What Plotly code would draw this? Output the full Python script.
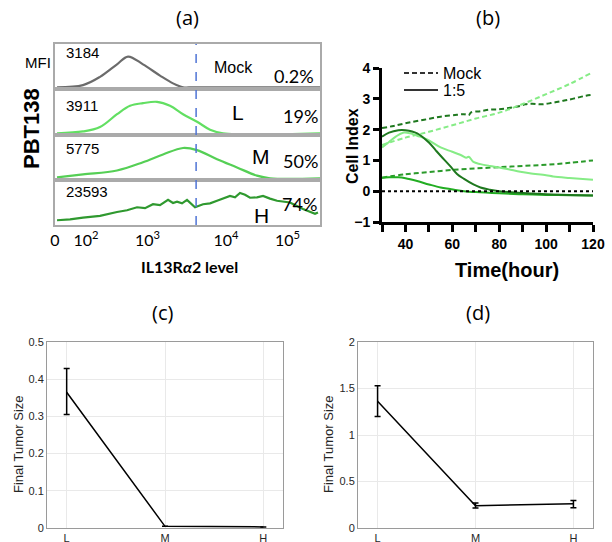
import plotly.graph_objects as go

W, H = 612, 542
def fx(px): return px / W
def fy(py): return 1 - py / H

# ---------------- (a) flow-cytometry histograms (x in display decades) ----------------
hist_tickvals = [1.614, 2.057, 2.936, 4.057, 4.936]
hist_ticktext = ['0', '10<sup>2</sup>', '10<sup>3</sup>', '10<sup>4</sup>', '10<sup>5</sup>']
gate_level = 3.63

mock_x = [1.643, 2.014, 2.257, 2.5, 2.657, 2.871, 3.114, 3.3, 3.443, 3.6, 5.4]
mock_y = [0.0, 0.05, 0.24, 0.53, 0.71, 0.53, 0.27, 0.09, 0.0, 0.0, 0.0]

low_x = [1.643, 2.014, 2.257, 2.5, 2.686, 2.871, 3.071, 3.257, 3.443, 3.643, 3.829, 4.014, 5.4]
low_y = [0.0, 0.04, 0.14, 0.43, 0.62, 0.68, 0.71, 0.62, 0.43, 0.26, 0.08, 0.0, 0.0]

mid_x = [1.643, 2.014, 2.5, 2.871, 3.157, 3.443, 3.643, 3.929, 4.214, 4.5, 4.686, 5.4]
mid_y = [0.02, 0.09, 0.18, 0.37, 0.55, 0.70, 0.65, 0.44, 0.25, 0.06, 0.0, 0.0]

high_x = [1.643, 1.829, 2.014, 2.257, 2.5, 2.643, 2.786, 2.9, 3.014, 3.114, 3.229, 3.3, 3.357,
          3.429, 3.5, 3.557, 3.614, 3.729, 3.829, 3.929, 4.043, 4.114, 4.186, 4.257, 4.329,
          4.4, 4.5, 4.586, 4.686, 4.786, 4.971, 5.157, 5.329, 5.371]
high_y = [0.07, 0.09, 0.13, 0.17, 0.26, 0.30, 0.37, 0.35, 0.44, 0.42, 0.54, 0.47, 0.50,
          0.46, 0.54, 0.45, 0.37, 0.44, 0.46, 0.52, 0.58, 0.63, 0.60, 0.70, 0.66,
          0.59, 0.60, 0.63, 0.57, 0.52, 0.48, 0.33, 0.22, 0.25]

row_names = ['Mock', 'L', 'M', 'H']
mfi_values = ['3184', '3911', '5775', '23593']
pct_values = ['0.2%', '19%', '50%', '74%']

# ---------------- (b) cell index over time ----------------
t_mock_dark = [30, 35, 41, 48, 55, 62, 65, 67, 68, 72, 76, 80, 84, 89, 91, 94, 98, 102, 106, 109, 113, 117, 120]
ci_mock_dark = [2.05, 2.12, 2.22, 2.32, 2.42, 2.48, 2.50, 2.47, 2.56, 2.60, 2.65, 2.66, 2.70, 2.77,
                2.82, 2.84, 2.82, 2.86, 2.92, 2.96, 3.03, 3.10, 3.13]
t_mock_light = [30, 40, 50, 60, 70, 80, 90, 100, 110, 120]
ci_mock_light = [1.50, 1.74, 1.93, 2.14, 2.36, 2.55, 2.83, 3.15, 3.48, 3.87]
t_mock_med = [30, 40, 50, 60, 70, 80, 90, 100, 110, 120]
ci_mock_med = [0.44, 0.55, 0.62, 0.69, 0.74, 0.78, 0.82, 0.86, 0.92, 1.00]

t_car_dark = [30, 33, 37, 40, 45, 50, 53, 55, 59, 62, 65, 69, 72, 76, 80, 84, 90, 100, 110, 120]
ci_car_dark = [1.77, 1.90, 1.98, 1.98, 1.88, 1.58, 1.32, 1.15, 0.82, 0.56, 0.40, 0.22, 0.12, 0.05,
               0.00, -0.03, -0.06, -0.10, -0.12, -0.14]
t_car_light = [30, 33, 36, 39, 42, 45, 49, 55, 60, 64, 66, 67, 69, 72, 76, 80, 84, 89, 93, 100, 103, 110, 120]
ci_car_light = [1.42, 1.60, 1.78, 1.90, 1.88, 1.80, 1.69, 1.42, 1.28, 1.16, 1.09, 1.12, 0.95, 0.88,
                0.82, 0.77, 0.71, 0.63, 0.58, 0.52, 0.48, 0.43, 0.37]
t_car_med = [30, 33, 37, 40, 45, 50, 55, 59, 62, 65, 70, 80, 90, 100, 110, 120]
ci_car_med = [0.44, 0.45, 0.45, 0.42, 0.33, 0.22, 0.12, 0.07, 0.03, 0.00, -0.03, -0.07, -0.10,
              -0.12, -0.13, -0.14]

time_major = [40, 60, 80, 100, 120]
time_minor = [30, 50, 70, 90, 110]

# ---------------- (c) and (d) final tumor size ----------------
levels = ['L', 'M', 'H']
c_mean = [0.365, 0.0045, 0.003]
c_err_up = [0.064, 0.0, 0.0]
c_err_dn = [0.060, 0.0, 0.0]
d_mean = [1.362, 0.240, 0.262]
d_err_up = [0.168, 0.030, 0.035]
d_err_dn = [0.162, 0.025, 0.043]

fig = go.Figure()

# ---- (a) traces ----
hist_sets = [(mock_x, mock_y, '#6b6b6b', 'spline'),
             (low_x, low_y, '#62df62', 'spline'),
             (mid_x, mid_y, '#55cf55', 'spline'),
             (high_x, high_y, '#2f992f', 'linear')]
for i, (xs, ys, col, shp) in enumerate(hist_sets):
    n = 4 + i
    fig.add_trace(go.Scatter(x=xs, y=ys, mode='lines', line=dict(color=col, width=2.2, shape=shp),
                             xaxis=f'x{n}', yaxis=f'y{n}', showlegend=False, hoverinfo='skip'))

# ---- (b) traces ----
dark, light, med = '#1e781e', '#86ec86', '#22ad22'
dash_pat = '5px,3px'
series_b = [(t_mock_dark, ci_mock_dark, dark, dash_pat),
            (t_mock_light, ci_mock_light, light, dash_pat),
            (t_mock_med, ci_mock_med, '#2a9a2a', dash_pat),
            (t_car_light, ci_car_light, light, 'solid'),
            (t_car_med, ci_car_med, med, 'solid'),
            (t_car_dark, ci_car_dark, dark, 'solid')]
for ts, vs, col, dsh in series_b:
    fig.add_trace(go.Scatter(x=ts, y=vs, mode='lines', line=dict(color=col, width=2, dash=dsh, shape='spline'),
                             xaxis='x', yaxis='y', showlegend=False, hoverinfo='skip'))
for name, dsh, lg in [('Mock', dash_pat, 'legend'), ('1:5', 'solid', 'legend2')]:
    fig.add_trace(go.Scatter(x=[None], y=[None], mode='lines', name=name, legend=lg,
                             line=dict(color='#333333', width=2, dash=dsh), xaxis='x', yaxis='y'))

# ---- (c), (d) traces ----
for ax, mean, eu, ed in [('2', c_mean, c_err_up, c_err_dn), ('3', d_mean, d_err_up, d_err_dn)]:
    fig.add_trace(go.Scatter(x=levels, y=mean, mode='lines', line=dict(color='black', width=1.5),
                             error_y=dict(type='data', symmetric=False, array=eu, arrayminus=ed,
                                          color='black', thickness=1.5, width=3),
                             xaxis='x' + ax, yaxis='y' + ax, showlegend=False, hoverinfo='skip'))

legend_font = dict(family='Arial, Liberation Sans', size=16, color='black')
layout = dict(width=W, height=H, margin=dict(l=0, r=0, t=0, b=0, pad=0, autoexpand=False),
              paper_bgcolor='white', plot_bgcolor='rgba(0,0,0,0)',
              font=dict(family='Arial, Liberation Sans', color='black'),
              showlegend=True,
              legend=dict(x=fx(399), y=fy(56), xanchor='left', yanchor='top', font=legend_font,
                          bgcolor='rgba(0,0,0,0)', itemwidth=34),
              legend2=dict(x=fx(399), y=fy(73), xanchor='left', yanchor='top', font=legend_font,
                           bgcolor='rgba(0,0,0,0)', itemwidth=34))

bold14 = dict(family='Arial, Liberation Sans', size=14, color='black', weight='bold')
layout['xaxis'] = dict(domain=[fx(382), fx(593)], range=[30, 120], anchor='y', automargin=False,
                       tickvals=time_major, showline=True, linewidth=3,
                       linecolor='black', ticks='outside', ticklen=7, tickwidth=2.5, tickcolor='black',
                       minor=dict(tickvals=time_minor, ticks='outside', ticklen=7, tickwidth=2.5,
                                  tickcolor='black', showgrid=False),
                       showgrid=False, zeroline=False, tickfont=bold14)
layout['yaxis'] = dict(domain=[fy(222), fy(68)], range=[-1, 4], anchor='x', automargin=False,
                       tickvals=[-1, 0, 1, 2, 3, 4], showline=True, linewidth=3, linecolor='black',
                       ticks='outside', ticklen=6, tickwidth=2.5, tickcolor='black',
                       showgrid=False, zeroline=False, tickfont=bold14)

gray_tick = dict(family='Liberation Sans, Arial', size=11, color='#262626')
for ax, dom_x, yr, ytv in [('2', [fx(47), fx(283)], [0, 0.5], [0, 0.1, 0.2, 0.3, 0.4, 0.5]),
                           ('3', [fx(358), fx(593)], [0, 2], [0, 0.5, 1, 1.5, 2])]:
    layout['xaxis' + ax] = dict(domain=dom_x, range=[-0.2, 2.2], anchor='y' + ax, type='category',
                                automargin=False,
                                showline=True, mirror=True, linecolor='#9a9a9a', linewidth=1,
                                showgrid=True, gridcolor='#e9e9e9', zeroline=False,
                                ticks='', tickfont=gray_tick)
    layout['yaxis' + ax] = dict(domain=[fy(528), fy(342)], range=yr, anchor='x' + ax,
                                automargin=False,
                                tickvals=ytv, showline=True, mirror=True, linecolor='#9a9a9a',
                                linewidth=1, showgrid=True, gridcolor='#e9e9e9', zeroline=False,
                                ticks='', tickfont=gray_tick)

row_bounds = [(44, 89), (89, 135), (135, 180), (180, 225)]
for i, (top, bot) in enumerate(row_bounds):
    n = 4 + i
    xa = dict(domain=[fx(55), fx(320)], range=[1.614, 5.4], anchor=f'y{n}', automargin=False,
              showline=True, mirror=True, linecolor='#aaaaaa', linewidth=2,
              showgrid=False, zeroline=False, ticks='')
    if i == 3:
        xa.update(tickvals=hist_tickvals, ticktext=hist_ticktext, showticklabels=True,
                  tickfont=dict(family='Lato, Open Sans', size=16, color='black'))
    else:
        xa.update(showticklabels=False)
    layout[f'xaxis{n}'] = xa
    layout[f'yaxis{n}'] = dict(domain=[fy(bot), fy(top)], range=[-0.04, 1], anchor=f'x{n}',
                               automargin=False,
                               showline=True, mirror=True, linecolor='#aaaaaa', linewidth=2,
                               showgrid=False, zeroline=False, showticklabels=False, ticks='')
fig.update_layout(**layout)

# zero reference line in (b)
fig.add_shape(type='line', xref='x domain', yref='y', x0=0, x1=1, y0=0, y1=0,
              line=dict(color='black', width=2, dash='dot'))
# gate line in (a)
fig.add_shape(type='line', xref='x7', yref='paper', x0=gate_level, x1=gate_level,
              y0=fy(225), y1=fy(44), line=dict(color='#4f74d6', width=1.5, dash='dash'))

ann = []
def txt(x, y, s, size, family='Arial, Liberation Sans', xa='center', weight='normal', angle=0, color='black'):
    ann.append(dict(x=fx(x), y=fy(y), xref='paper', yref='paper', text=s, showarrow=False,
                    xanchor=xa, yanchor='middle', textangle=angle,
                    font=dict(family=family, size=size, color=color, weight=weight)))

panel_font = 'Open Sans, Lato'
txt(187, 18, '(a)', 20, panel_font)
txt(488, 18, '(b)', 20, panel_font)
txt(162, 312, '(c)', 20, panel_font)
txt(478, 312, '(d)', 20, panel_font)

# (a) labels
txt(38, 62, 'MFI', 15)
txt(31, 129, 'PBT138', 22, weight='bold', angle=-90)
mfi_y = [52, 105, 148, 191]
for s, yy in zip(mfi_values, mfi_y):
    txt(64, yy, s, 15, xa='left')
txt(233, 67, row_names[0], 16)
letter_pos = [(238, 113), (261, 157), (261, 215)]
for s, (xx, yy) in zip(row_names[1:], letter_pos):
    txt(xx, yy, s, 21)
pct_pos = [(294, 76), (300, 116), (300, 161), (299, 204)]
for s, (xx, yy) in zip(pct_values, pct_pos):
    txt(xx, yy, s, 18, family='Lato, Open Sans')
txt(189, 266, 'IL13R<i>α</i>2 level', 16, family='Lato, Open Sans', weight='bold')

# (b) labels
txt(352, 146, 'Cell Index', 16, weight='bold', angle=-90)
txt(507, 270, 'Time(hour)', 20, weight='bold')

# (c),(d) labels
txt(18, 444, 'Final Tumor Size', 13, family='Liberation Sans, Arial', angle=-90, color='#262626')
txt(328, 444, 'Final Tumor Size', 13, family='Liberation Sans, Arial', angle=-90, color='#262626')

fig.update_layout(annotations=ann)
fig.write_html('out.html', config={'displayModeBar': False},
               post_script="document.body.style.margin='0';"
                           "document.documentElement.style.overflow='hidden';")
